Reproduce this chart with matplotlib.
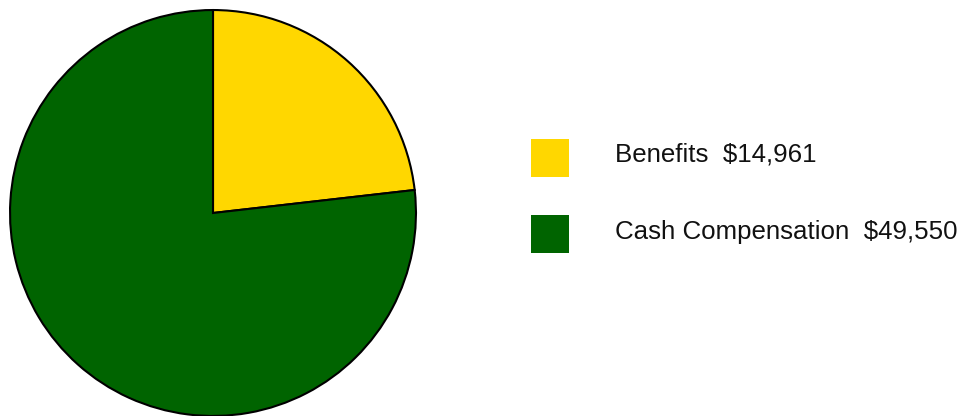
import matplotlib
matplotlib.use("Agg")
import matplotlib.pyplot as plt
from matplotlib.patches import Rectangle

categories = ["Benefits", "Cash Compensation"]
values = [14961, 49550]
colors = ["#FFD700", "#006400"]
labels = [f"{c}  ${v:,}" for c, v in zip(categories, values)]

W, H = 970, 416
fig = plt.figure(figsize=(W / 100, H / 100), dpi=100)
plt.rcParams['font.family'] = ['Liberation Sans', 'DejaVu Sans']

cx, cy, r = 213, H - 213, 205
ax = fig.add_axes([(cx - r) / W, (cy - r) / H, 2 * r / W, 2 * r / H])
ax.pie(values, colors=colors, startangle=90, counterclock=False, radius=1,
       wedgeprops=dict(edgecolor="black", linewidth=1.5), frame=False)
ax.set_xlim(-1.01, 1.01)
ax.set_ylim(-1.01, 1.01)
ax.set_aspect("equal")
ax.axis("off")

sq_tops = [139, 215]
baselines = [162, 238.5]
for lab, col, top, bl in zip(labels, colors, sq_tops, baselines):
    fig.patches.append(Rectangle((531 / W, (H - top - 38) / H), 38 / W, 38 / H,
                                 transform=fig.transFigure, facecolor=col, edgecolor="none"))
    fig.text(615 / W, (H - bl) / H, lab, fontsize=18.6, va="baseline", ha="left", color="#111111")

fig.savefig("out.png", dpi=100)
